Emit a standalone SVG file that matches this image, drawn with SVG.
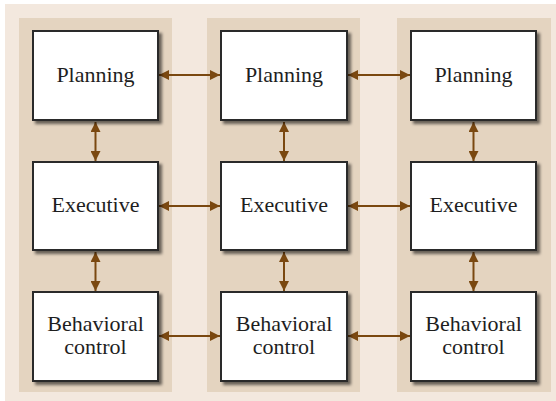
<svg xmlns="http://www.w3.org/2000/svg" width="556" height="401" viewBox="0 0 556 401">
  <defs>
    <style>
      .panel { fill: #e4d4c0; }
      .box { fill: #ffffff; stroke: #2b2b2b; stroke-width: 2; filter: url(#sh); }
      .lbl { font-size: 22px; fill: #1e1e1e; text-anchor: middle; }
      .conn { stroke: #7a4810; stroke-width: 2; fill: none; marker-start: url(#ah); marker-end: url(#ah); }
    </style>
    <filter id="sh" x="-10%" y="-10%" width="130%" height="130%">
      <feDropShadow dx="3" dy="3" stdDeviation="1.6" flood-color="#000" flood-opacity="0.55"/>
    </filter>
    <marker id="ah" viewBox="0 0 10 10" refX="10" refY="5" markerWidth="10" markerHeight="10" markerUnits="userSpaceOnUse" orient="auto-start-reverse">
      <path d="M0,0 L10,5 L0,10 Z" fill="#7a4810"/>
    </marker>
  </defs>
  <rect x="5" y="4" width="551" height="397" fill="#f3e8de"/>
  <g id="panels">
    <rect class="panel" x="19" y="18" width="153" height="374"/>
    <rect class="panel" x="207" y="18" width="153" height="374"/>
    <rect class="panel" x="397" y="18" width="154" height="374"/>
  </g>
  <g id="connectors">
    <path class="conn" d="M159,75 H220"/>
    <path class="conn" d="M348,75 H410"/>
    <path class="conn" d="M159,206 H220"/>
    <path class="conn" d="M348,206 H410"/>
    <path class="conn" d="M159,336 H220"/>
    <path class="conn" d="M348,336 H410"/>
    <path class="conn" d="M95.5,122 V161"/>
    <path class="conn" d="M284,122 V161"/>
    <path class="conn" d="M473.5,122 V161"/>
    <path class="conn" d="M95.5,252 V291"/>
    <path class="conn" d="M284,252 V291"/>
    <path class="conn" d="M473.5,252 V291"/>
  </g>
  <g font-family="'Liberation Serif', 'Times New Roman', Times, serif">
  <g id="planning1"><rect class="box" x="33" y="31" width="125" height="89"/><text class="lbl" x="95.5" y="82">Planning</text></g>
  <g id="planning2"><rect class="box" x="221" y="31" width="126" height="89"/><text class="lbl" x="284" y="82">Planning</text></g>
  <g id="planning3"><rect class="box" x="411" y="31" width="125" height="89"/><text class="lbl" x="473.5" y="82">Planning</text></g>
  <g id="executive1"><rect class="box" x="33" y="162" width="125" height="88"/><text class="lbl" x="95.5" y="212">Executive</text></g>
  <g id="executive2"><rect class="box" x="221" y="162" width="126" height="88"/><text class="lbl" x="284" y="212">Executive</text></g>
  <g id="executive3"><rect class="box" x="411" y="162" width="125" height="88"/><text class="lbl" x="473.5" y="212">Executive</text></g>
  <g id="behavioral1"><rect class="box" x="33" y="292" width="125" height="89"/><text class="lbl" x="95.5" y="331">Behavioral</text><text class="lbl" x="95.5" y="354">control</text></g>
  <g id="behavioral2"><rect class="box" x="221" y="292" width="126" height="89"/><text class="lbl" x="284" y="331">Behavioral</text><text class="lbl" x="284" y="354">control</text></g>
  <g id="behavioral3"><rect class="box" x="411" y="292" width="125" height="89"/><text class="lbl" x="473.5" y="331">Behavioral</text><text class="lbl" x="473.5" y="354">control</text></g>
  </g>
</svg>
